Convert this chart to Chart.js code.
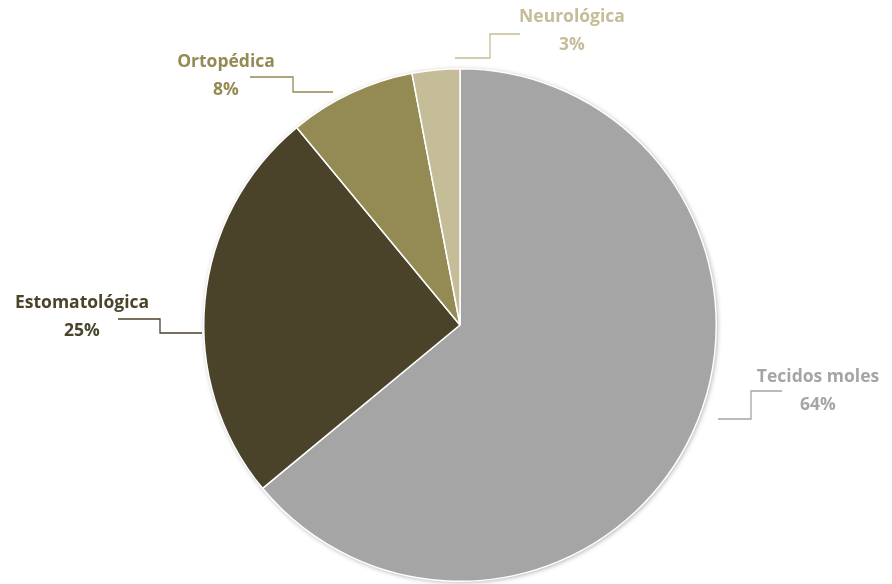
<!DOCTYPE html>
<html>
<head>
<meta charset="utf-8">
<script src="https://cdn.jsdelivr.net/npm/chart.js@4.4.0/dist/chart.umd.min.js"></script>
<style>
  html, body { margin: 0; padding: 0; background: #fff; }
  #wrap { width: 892px; height: 584px; position: relative; }
</style>
</head>
<body>
<div id="wrap"><canvas id="lesoesChart"></canvas></div>
<script>
// categorias e percentagens
const categorias = ['Tecidos moles', 'Estomatológica', 'Ortopédica', 'Neurológica'];
const percentagens = [64, 25, 8, 3];
const cores = ['#a5a5a5', '#4a4229', '#948a54', '#c4bd97'];
const coresTexto = ['#a5a5a5', '#4a452a', '#948a54', '#c4bd97'];

// posição das etiquetas e linhas de chamada (relativas ao centro da tarte)
const etiquetas = [
  { tx: 358, ty: 52, linha: [[258, 94], [291, 94], [291, 66], [322, 66]] },
  { tx: -378, ty: -22, linha: [[-258, 8], [-300, 8], [-300, -6], [-342, -6]] },
  { tx: -234, ty: -263, linha: [[-127, -233], [-167, -233], [-167, -248], [-210, -248]] },
  { tx: 112, ty: -308, linha: [[-5, -267], [30, -267], [30, -291], [60, -291]] }
];

const etiquetasPlugin = {
  id: 'etiquetas',
  beforeDatasetsDraw(chart) {
    // sombra suave por baixo da tarte
    const arc = chart.getDatasetMeta(0).data[0];
    const ctx = chart.ctx;
    ctx.save();
    ctx.shadowColor = 'rgba(0,0,0,0.35)';
    ctx.shadowBlur = 5;
    ctx.shadowOffsetX = 1;
    ctx.shadowOffsetY = 1;
    ctx.fillStyle = '#a5a5a5';
    ctx.beginPath();
    ctx.arc(arc.x, arc.y, arc.outerRadius, 0, Math.PI * 2);
    ctx.fill();
    ctx.restore();
  },
  afterDatasetsDraw(chart) {
    const ctx = chart.ctx;
    const arcs = chart.getDatasetMeta(0).data;
    const cx = arcs[0].x, cy = arcs[0].y;
    ctx.save();
    etiquetas.forEach((e, i) => {
      ctx.strokeStyle = cores[i];
      ctx.lineWidth = 1.3;
      ctx.beginPath();
      e.linha.forEach((p, j) => {
        if (j === 0) ctx.moveTo(cx + p[0], cy + p[1]);
        else ctx.lineTo(cx + p[0], cy + p[1]);
      });
      ctx.stroke();

      ctx.fillStyle = coresTexto[i];
      ctx.font = 'bold 17.5px "Open Sans"';
      ctx.textAlign = 'center';
      ctx.textBaseline = 'middle';
      ctx.fillText(categorias[i], cx + e.tx, cy + e.ty);
      ctx.fillText(percentagens[i] + '%', cx + e.tx, cy + e.ty + 28);
    });
    ctx.restore();
  }
};

const ctx = document.getElementById('lesoesChart').getContext('2d');
new Chart(ctx, {
  type: 'pie',
  data: {
    labels: categorias,
    datasets: [{
      data: percentagens,
      backgroundColor: cores,
      borderColor: '#ffffff',
      borderWidth: 1.5
    }]
  },
  options: {
    responsive: true,
    maintainAspectRatio: false,
    animation: false,
    layout: { padding: { top: 68, bottom: 2, left: 203, right: 175 } },
    plugins: {
      legend: { display: false },
      tooltip: { enabled: false }
    }
  },
  plugins: [etiquetasPlugin]
});
</script>
</body>
</html>
